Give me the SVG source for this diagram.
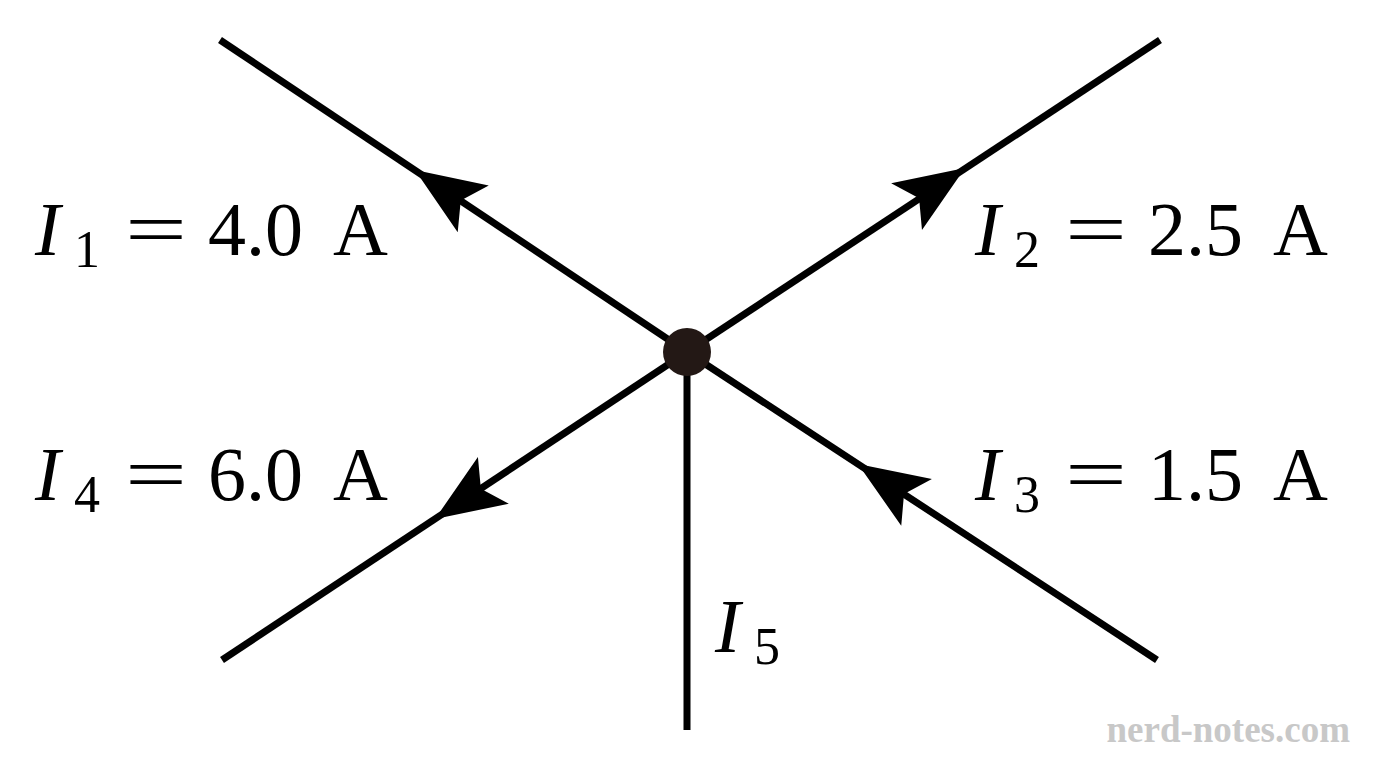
<svg xmlns="http://www.w3.org/2000/svg" width="1376" height="768" viewBox="0 0 1376 768">
<style>
.w{stroke:#000;stroke-width:7;fill:none}
text{font-family:'Liberation Serif',serif}
.t{font-size:76px;fill:#000}
.i{font-style:italic}
.s{font-size:52px}
</style>
<defs><polygon id="ah" points="0,0 -70,-28 -55,0 -70,28" fill="#000"/></defs>
<rect width="1376" height="768" fill="#fff"/>
<g id="connectors">
<line class="w" x1="687" y1="352" x2="220" y2="40"/>
<line class="w" x1="687" y1="352" x2="1160" y2="40"/>
<line class="w" x1="687" y1="352" x2="222" y2="660"/>
<line class="w" x1="687" y1="352" x2="1157" y2="660"/>
<line class="w" x1="687" y1="352" x2="687" y2="730"/>
<use href="#ah" transform="translate(415,170) rotate(213.7)"/>
<use href="#ah" transform="translate(965,168) rotate(-33.4)"/>
<use href="#ah" transform="translate(858,464) rotate(213.2)"/>
<use href="#ah" transform="translate(435,519) rotate(146.5)"/>
</g>
<g id="junction"><circle cx="687" cy="352" r="24" fill="#231815"/></g>
<g id="labels">
<text class="t" y="255"><tspan class="i" x="35">I</tspan><tspan class="s" x="74" y="267">1</tspan><tspan x="125" y="255" textLength="62" lengthAdjust="spacingAndGlyphs">=</tspan><tspan x="208">4.0</tspan><tspan x="333">A</tspan></text>
<text class="t" y="255"><tspan class="i" x="975">I</tspan><tspan class="s" x="1014" y="267">2</tspan><tspan x="1065" y="255" textLength="62" lengthAdjust="spacingAndGlyphs">=</tspan><tspan x="1148">2.5</tspan><tspan x="1273">A</tspan></text>
<text class="t" y="500"><tspan class="i" x="975">I</tspan><tspan class="s" x="1014" y="512">3</tspan><tspan x="1065" y="500" textLength="62" lengthAdjust="spacingAndGlyphs">=</tspan><tspan x="1148">1.5</tspan><tspan x="1273">A</tspan></text>
<text class="t" y="500"><tspan class="i" x="35">I</tspan><tspan class="s" x="74" y="512">4</tspan><tspan x="125" y="500" textLength="62" lengthAdjust="spacingAndGlyphs">=</tspan><tspan x="208">6.0</tspan><tspan x="333">A</tspan></text>
<text class="t" y="652"><tspan class="i" x="715">I</tspan><tspan class="s" x="754" y="664">5</tspan></text>
<text x="1350" y="742" text-anchor="end" font-weight="bold" font-size="37" fill="#c8c8c8">nerd-notes.com</text>
</g>
</svg>
